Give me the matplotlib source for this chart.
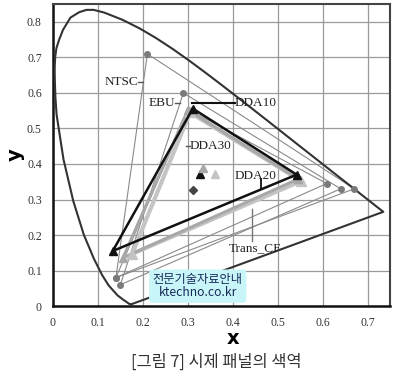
import matplotlib.pyplot as plt

# CIE 1931 spectral locus (approx. chromaticity, 380-700 nm)
locus_x = [0.1741, 0.1733, 0.1714, 0.1689, 0.1644, 0.1566, 0.1440, 0.1241, 0.1096,
           0.0913, 0.0687, 0.0454, 0.0235, 0.0082, 0.0055, 0.0042, 0.0039, 0.0040,
           0.0051, 0.0078, 0.0139, 0.0224, 0.0389, 0.0584, 0.0743, 0.0903,
           0.1142, 0.1547, 0.1929, 0.2296, 0.2658, 0.3016, 0.3373, 0.3731, 0.4087,
           0.4441, 0.4788, 0.5125, 0.5448, 0.5752, 0.6029, 0.6270, 0.6658, 0.6915,
           0.7079, 0.7190, 0.7260, 0.7347, 0.1741]
locus_y = [0.0050, 0.0048, 0.0051, 0.0069, 0.0109, 0.0177, 0.0297, 0.0578, 0.0868,
           0.1327, 0.2007, 0.2950, 0.4127, 0.5384, 0.5878, 0.6362, 0.6548, 0.6755,
           0.7022, 0.7264, 0.7502, 0.7776, 0.8120, 0.8273, 0.8338, 0.8339,
           0.8262, 0.8059, 0.7816, 0.7543, 0.7243, 0.6923, 0.6589, 0.6245, 0.5896,
           0.5547, 0.5202, 0.4866, 0.4544, 0.4242, 0.3965, 0.3725, 0.3340, 0.3083,
           0.2920, 0.2809, 0.2740, 0.2653, 0.0050]

# gamut triangles: G, R, B
ntsc_x = [0.21, 0.67, 0.14]
ntsc_y = [0.71, 0.33, 0.08]
ebu_x = [0.29, 0.64, 0.15]
ebu_y = [0.60, 0.33, 0.06]
trans_x = [0.302, 0.609, 0.14]
trans_y = [0.553, 0.345, 0.08]
dda10_x = [0.311, 0.542, 0.133]
dda10_y = [0.556, 0.370, 0.155]
dda20_x = [0.305, 0.552, 0.176]
dda20_y = [0.545, 0.352, 0.147]
dda30_x = [0.300, 0.546, 0.156]
dda30_y = [0.552, 0.358, 0.136]

# white points
wp10 = (0.327, 0.373)
wp30 = (0.333, 0.390)
wp20 = (0.360, 0.373)
d65 = (0.311, 0.328)

fig = plt.figure(figsize=(4.01, 3.76), dpi=100)
ax = fig.add_axes([0.132, 0.186, 0.841, 0.803])

def closed(v):
    return list(v) + [v[0]]

ax.plot(locus_x, locus_y, color='#333333', lw=1.5, zorder=3)

for gx, gy in [(ntsc_x, ntsc_y), (ebu_x, ebu_y), (trans_x, trans_y)]:
    ax.plot(closed(gx), closed(gy), color='#8a8a8a', lw=0.8, zorder=2)
    ax.plot(gx, gy, 'o', color='#7a7a7a', ms=4, zorder=4)

ax.plot(closed(dda20_x), closed(dda20_y), color='#c4c4c4', lw=3, zorder=3)
ax.plot(dda20_x, dda20_y, '^', color='#c4c4c4', ms=7, zorder=4)
ax.plot(closed(dda30_x), closed(dda30_y), color='#a8a8a8', lw=2.2, zorder=3)
ax.plot(dda30_x, dda30_y, '^', color='#a8a8a8', ms=6, zorder=4)
ax.plot(closed(dda10_x), closed(dda10_y), color='#111111', lw=1.8, zorder=5)
ax.plot(dda10_x, dda10_y, '^', color='#111111', ms=6, zorder=6)

ax.plot(*wp10, '^', color='#111111', ms=6, zorder=6)
ax.plot(*wp30, '^', color='#a8a8a8', ms=6, zorder=6)
ax.plot(*wp20, '^', color='#c4c4c4', ms=6, zorder=6)
ax.plot(*d65, 'D', color='#444444', ms=4, zorder=6)

# labels
lab = dict(family='Liberation Serif', fontsize=9.5, color='#222222', zorder=7)
ax.text(0.189, 0.63, 'NTSC', ha='right', va='center', **lab)
ax.plot([0.19, 0.2], [0.63, 0.63], color='#555555', lw=1)
ax.text(0.271, 0.573, 'EBU', ha='right', va='center', **lab)
ax.plot([0.272, 0.282], [0.573, 0.573], color='#555555', lw=1)
ax.plot([0.31, 0.404], [0.571, 0.571], color='#111111', lw=1.5)
ax.text(0.404, 0.571, 'DDA10', ha='left', va='center', **lab)
ax.plot([0.295, 0.304], [0.452, 0.452], color='#555555', lw=1)
ax.text(0.304, 0.452, 'DDA30', ha='left', va='center', **lab)
ax.text(0.404, 0.367, 'DDA20', ha='left', va='center', **lab)
ax.plot([0.462, 0.462], [0.358, 0.33], color='#111111', lw=1.3)
ax.plot([0.442, 0.442], [0.274, 0.184], color='#777777', lw=1)
ax.text(0.449, 0.164, 'Trans_CF', ha='center', va='center', **lab)

ax.text(0.322, 0.056, '전문기술자료안내\nktechno.co.kr', ha='center', va='center',
        family=['Noto Sans CJK KR', 'DejaVu Sans'], fontsize=8.8, color='#1a2a5a',
        linespacing=1.0, zorder=8,
        bbox=dict(boxstyle='round,pad=0.3', fc='#c8f6f8', ec='none'))

ax.set_xlim(0, 0.75)
ax.set_ylim(0, 0.85)
ax.set_xticks([0, 0.1, 0.2, 0.3, 0.4, 0.5, 0.6, 0.7])
ax.set_xticklabels(['0', '0.1', '0.2', '0.3', '0.4', '0.5', '0.6', '0.7'])
ax.set_yticks([0, 0.1, 0.2, 0.3, 0.4, 0.5, 0.6, 0.7, 0.8])
ax.set_yticklabels(['0', '0.1', '0.2', '0.3', '0.4', '0.5', '0.6', '0.7', '0.8'])
for t in ax.get_xticklabels() + ax.get_yticklabels():
    t.set_family('Liberation Serif')
    t.set_fontsize(8.5)
    t.set_color('#333333')
ax.tick_params(length=0, pad=8)
ax.grid(True, color='#9a9a9a', lw=0.9)
ax.set_axisbelow(True)
for s in ['top', 'right']:
    ax.spines[s].set_color('#444444')
    ax.spines[s].set_linewidth(1.5)
for s in ['left', 'bottom']:
    ax.spines[s].set_color('#111111')
    ax.spines[s].set_linewidth(1.8)

ax.set_xlabel('x', fontsize=14, fontweight='bold', family='DejaVu Sans')
ax.xaxis.set_label_coords(0.535, -0.077)
ax.set_ylabel('y', fontsize=14, fontweight='bold', family='DejaVu Sans')
ax.yaxis.set_label_coords(-0.085, 0.5)

fig.text(0.54, 0.037, '[그림 7] 시제 패널의 색역', ha='center', va='center',
         family=['Noto Sans CJK KR', 'DejaVu Sans'], fontsize=11.8, color='#333333')

fig.savefig('out.png', dpi=100)
